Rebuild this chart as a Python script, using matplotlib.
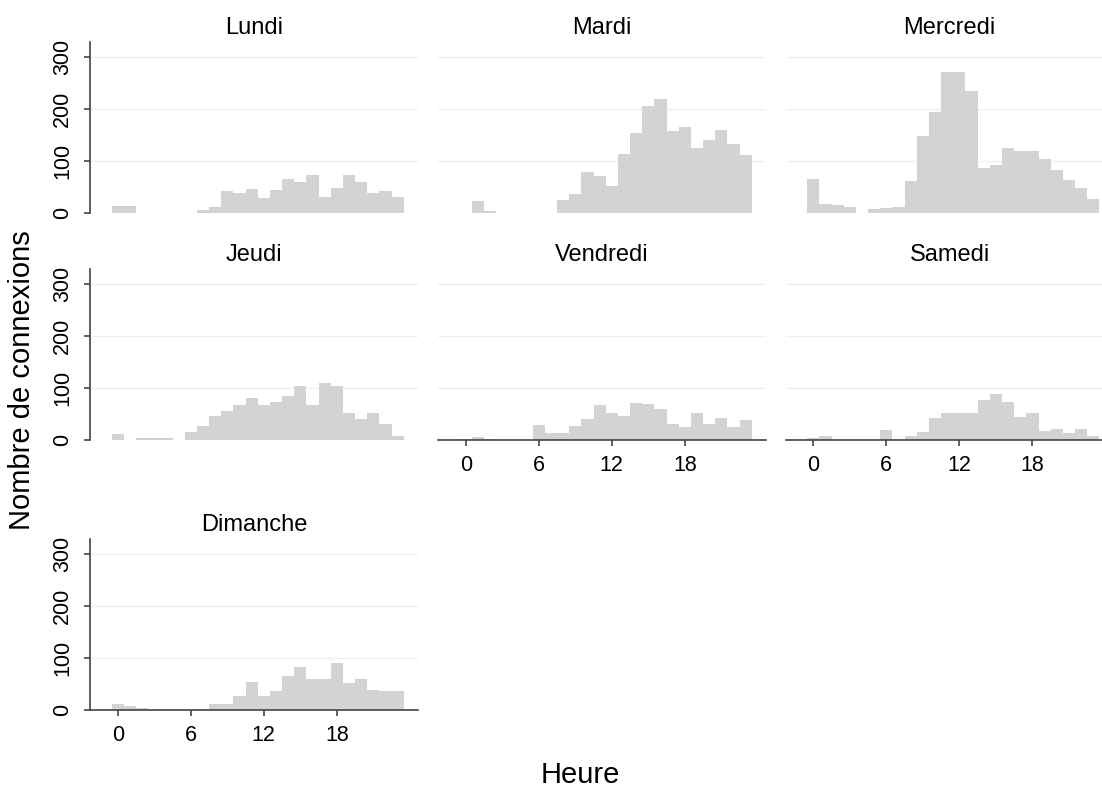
import matplotlib
matplotlib.use('Agg')
import matplotlib.pyplot as plt
import numpy as np

plt.rcParams['font.family'] = ['Liberation Sans', 'DejaVu Sans']

hours = np.arange(24)
days = ['Lundi', 'Mardi', 'Mercredi', 'Jeudi', 'Vendredi', 'Samedi', 'Dimanche']

lundi = [13, 13, 0, 0, 0, 0, 0, 6, 11, 42, 38, 47, 29, 44, 65, 60, 74, 31, 49, 74, 60, 38, 42, 31]
mardi = [0, 23, 3, 0, 0, 0, 0, 0, 25, 36, 78, 71, 51, 113, 154, 206, 219, 157, 166, 126, 141, 159, 132, 111]
mercredi = [66, 17, 15, 11, 0, 8, 9, 12, 61, 149, 194, 272, 272, 235, 87, 92, 125, 120, 120, 103, 82, 64, 49, 27]
jeudi = [12, 0, 3, 3, 3, 0, 15, 26, 46, 55, 67, 80, 67, 73, 85, 103, 67, 109, 103, 52, 41, 52, 31, 8]
vendredi = [2, 5, 2, 0, 0, 0, 28, 13, 13, 26, 40, 67, 51, 46, 71, 69, 59, 31, 25, 51, 31, 43, 25, 38]
samedi = [3, 8, 0, 0, 0, 0, 19, 0, 7, 16, 42, 51, 51, 51, 76, 89, 74, 44, 51, 18, 21, 13, 21, 8]
dimanche = [12, 8, 4, 0, 0, 0, 0, 0, 12, 12, 27, 54, 27, 37, 65, 82, 59, 59, 90, 52, 59, 39, 37, 37]
counts = [lundi, mardi, mercredi, jeudi, vendredi, samedi, dimanche]

yticks = [0, 100, 200, 300]
xticks = [0, 6, 12, 18]

W, H = 1102, 788
fig = plt.figure(figsize=(W / 100, H / 100), dpi=100)

col_left = [90, 438, 785.6]
row_bottom = [213, 440, 710]
pw, ph = 328, 171
axis_col = '#444444'

for i, (day, vals) in enumerate(zip(days, counts)):
    r, c = divmod(i, 3)
    ax = fig.add_axes([col_left[c] / W, 1 - row_bottom[r] / H, pw / W, ph / H])
    ax.bar(hours, vals, width=1, color='#d3d3d3', linewidth=0, zorder=2)
    ax.set_xlim(-2.28, 24.67)
    ax.set_ylim(0, 329)
    ax.set_yticks(yticks)
    ax.set_xticks(xticks)
    ax.grid(axis='y', color='#efefef', linewidth=1, zorder=0)
    ax.set_axisbelow(True)
    for s in ['top', 'right']:
        ax.spines[s].set_visible(False)
    first_col = (c == 0)
    bottom_row = (i >= 4)
    ax.spines['left'].set_visible(first_col)
    ax.spines['bottom'].set_visible(bottom_row)
    ax.spines['left'].set_color(axis_col)
    ax.spines['bottom'].set_color(axis_col)
    ax.spines['left'].set_linewidth(1.2)
    ax.spines['bottom'].set_linewidth(1.2)
    ax.tick_params(axis='y', left=first_col, labelleft=first_col, length=4,
                   color=axis_col, width=1.2, labelsize=15.5, pad=8)
    ax.tick_params(axis='x', bottom=bottom_row, labelbottom=bottom_row, length=4,
                   color=axis_col, width=1.2, labelsize=15.5, pad=7)
    for lab in ax.get_yticklabels():
        lab.set_rotation(90)
        lab.set_va('center')
    ax.set_title(day, fontsize=17, pad=6)

fig.text(22 / W, 1 - 380 / H, 'Nombre de connexions', rotation=90,
         ha='center', va='center', fontsize=21)
fig.text(580 / W, 1 - 775 / H, 'Heure', ha='center', va='center', fontsize=21)

fig.savefig('out.png', dpi=100)
